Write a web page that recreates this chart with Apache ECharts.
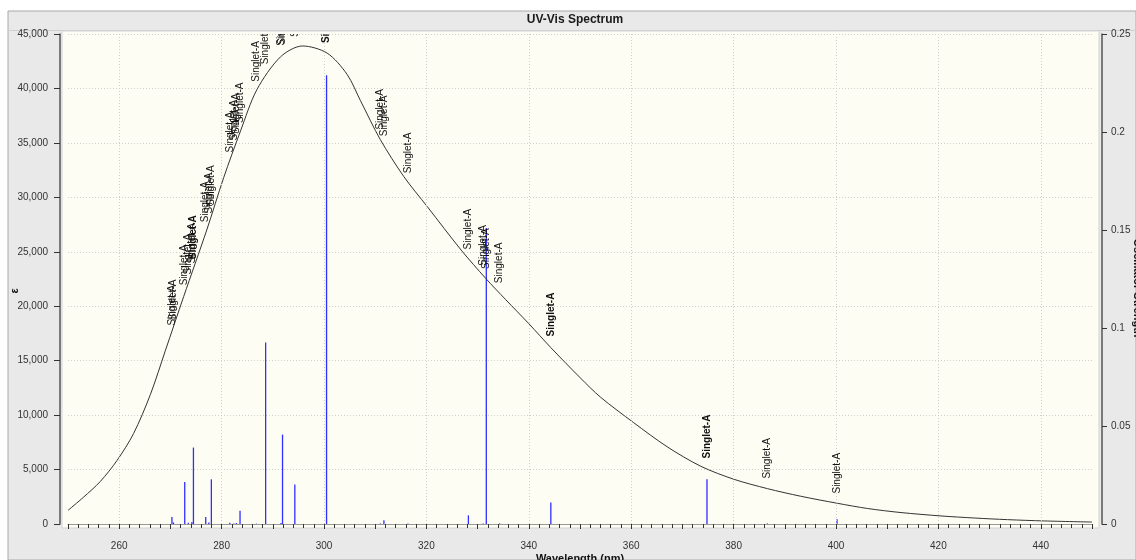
<!DOCTYPE html>
<html>
<head>
<meta charset="utf-8">
<title>UV-Vis Spectrum</title>
<script src="https://cdn.jsdelivr.net/npm/echarts@6/dist/echarts.min.js"></script>
<style>
  html, body { margin: 0; padding: 0; background: #fff; }
  #chart { width: 1136px; height: 560px; }
</style>
</head>
<body>
<div id="chart"></div>
<script>
  // broadened absorption curve (nm, epsilon)
  const curveNm = [250, 253, 256.3, 259.6, 262.8, 266.1, 269, 272.6, 277.1, 280.4, 283.7, 286.9, 291.5, 295.8,
    300.6, 304.5, 307.1, 311, 315.6, 320.2, 326.8, 331.6, 335.5, 340, 344.3, 350.1, 354, 360.5, 367, 373.6,
    380.1, 386.6, 393.1, 400.3, 406.2, 412.7, 420.5, 427, 433.5, 440.7, 450];
  const curveEps = [1250, 2450, 3900, 5850, 8300, 11900, 15900, 20900, 27000, 31800, 36100, 39900, 42900, 43900,
    43250, 41300, 38900, 35300, 31900, 29130, 25150, 22550, 20600, 18400, 16200, 13400, 11650, 9300, 7100, 5300,
    4100, 3250, 2550, 1900, 1420, 1050, 740, 550, 400, 280, 180];

  // transitions: wavelength, oscillator strength, label height on the curve, bold label
  const stickNm = [270.3, 270.6, 272.8, 273.5, 274.2, 274.5, 276.9, 277.5, 278.0, 281.6, 282.4, 282.9, 283.6,
    286.8, 288.6, 291.6, 291.9, 294.3, 300.5, 311.0, 311.7, 316.4, 328.2, 331.1, 331.7, 334.3, 344.3, 374.8,
    386.6, 400.2];
  const stickStrength = [0.0036, 0.0008, 0.0214, 0.0007, 0.0010, 0.039, 0.0036, 0.0008, 0.0228, 0.0006, 0.0003,
    0.0005, 0.0068, 0.0002, 0.0926, 0.0005, 0.0456, 0.0201, 0.229, 0.0002, 0.0019, 0.0003, 0.0044, 0.0003,
    0.151, 0.0003, 0.011, 0.0228, 0.0003, 0.0024];
  const labelEps = [17300, 17800, 21000, 22000, 23000, 23400, 26800, 27600, 28300, 33200, 34300, 34900, 35900,
    39700, 41300, 43000, 43100, 43800, 43250, 35300, 34700, 31300, 24300, 22800, 22500, 21200, 16300, 5100,
    3250, 1880];
  const labelBold = [0, 0, 0, 0, 0, 1, 0, 0, 0, 0, 0, 0, 0, 0, 0, 0, 0, 0, 1, 0, 0, 0, 0, 0, 0, 0, 1, 1, 0, 0];

  const xTicks = [260, 280, 300, 320, 340, 360, 380, 400, 420, 440];

  let chart = echarts.init(document.getElementById('chart'));

  let curveData = curveNm.map((x, i) => [x, curveEps[i]]);
  let stickData = stickNm.map((x, i) => [x, stickStrength[i]]);
  let labelData = stickNm.map((x, i) => [x, labelEps[i], labelBold[i]]);

  chart.setOption({
    animation: false,
    backgroundColor: '#ffffff',
    textStyle: { fontFamily: '"Liberation Sans", Arial, sans-serif' },
    graphic: [
      { type: 'rect', z: -10, shape: { x: 8, y: 11, width: 1128, height: 549 },
        style: { fill: '#e9e9e9', stroke: '#a8a8a8', lineWidth: 1 } },
      { type: 'line', z: -10, shape: { x1: 8, y1: 30.5, x2: 1136, y2: 30.5 },
        style: { stroke: '#cfcfcf', lineWidth: 1 } },
      { type: 'rect', z: -9, shape: { x: 62, y: 31, width: 1037, height: 497 },
        style: { fill: '#fdfdf4', stroke: '#d4d4d4', lineWidth: 1 } },
      { type: 'text', z: 10, x: 575, y: 20,
        style: { text: 'UV-Vis Spectrum', fontSize: 12, fontWeight: 'bold', fill: '#1a1a1a',
          textAlign: 'center', textVerticalAlign: 'middle', fontFamily: '"Liberation Sans", Arial, sans-serif' } }
    ],
    grid: { left: 68, right: 44, top: 34, bottom: 36, containLabel: false, outerBoundsMode: 'none' },
    xAxis: {
      type: 'value',
      min: 250,
      max: 450,
      interval: 10,
      offset: 7,
      name: 'Wavelength (nm)',
      nameLocation: 'middle',
      nameGap: 22,
      nameMoveOverlap: false,
      nameTextStyle: { fontSize: 11, fontWeight: 'bold', color: '#111' },
      axisLine: { lineStyle: { color: '#999', width: 1 } },
      axisTick: { length: 5, lineStyle: { color: '#333' } },
      minorTick: { show: true, splitNumber: 5, length: 4, lineStyle: { color: '#333' } },
      axisLabel: {
        fontSize: 10,
        color: '#333',
        margin: 10,
        formatter: v => (v % 20 === 0 && v > 250 && v < 450) ? String(v) : ''
      },
      splitLine: { show: false }
    },
    yAxis: [
      {
        type: 'value',
        min: 0,
        max: 45000,
        interval: 5000,
        offset: 8,
        name: 'ε',
        nameLocation: 'middle',
        nameGap: 40,
        nameMoveOverlap: false,
        nameTextStyle: { fontSize: 11, fontWeight: 'bold', color: '#111', padding: [0, 24, 0, 0] },
        axisLine: { show: true, lineStyle: { color: '#555', width: 1.5 } },
        axisTick: { show: true, length: 6, lineStyle: { color: '#333' } },
        axisLabel: {
          fontSize: 10,
          color: '#333',
          margin: 12,
          formatter: v => v.toLocaleString('en-US')
        },
        splitLine: { show: true, lineStyle: { color: '#cfcfcf', type: [1, 2] } }
      },
      {
        type: 'value',
        min: 0,
        max: 0.25,
        interval: 0.05,
        offset: 10,
        position: 'right',
        name: 'Oscillator Strength',
        nameLocation: 'middle',
        nameGap: 30,
        nameRotate: -90,
        nameMoveOverlap: false,
        nameTextStyle: { fontSize: 11, fontWeight: 'bold', color: '#111', padding: [0, 0, 0, 18] },
        axisLine: { show: true, lineStyle: { color: '#555', width: 1.5 } },
        axisTick: { show: true, length: 5, lineStyle: { color: '#333' } },
        axisLabel: { fontSize: 10, color: '#333', margin: 9 },
        splitLine: { show: false }
      }
    ],
    series: [
      {
        // vertical dotted grid lines
        type: 'line',
        data: [],
        z: 1,
        silent: true,
        markLine: {
          silent: true,
          symbol: 'none',
          label: { show: false },
          lineStyle: { color: '#cfcfcf', type: [1, 2], width: 1 },
          data: xTicks.map(v => ({ xAxis: v }))
        }
      },
      {
        name: 'sticks',
        type: 'custom',
        yAxisIndex: 1,
        z: 3,
        data: stickData,
        renderItem: (params, api) => {
          let p0 = api.coord([api.value(0), 0]);
          let p1 = api.coord([api.value(0), api.value(1)]);
          return {
            type: 'line',
            shape: { x1: p0[0], y1: p0[1], x2: p1[0], y2: p1[1] },
            style: { stroke: '#2f2fff', lineWidth: 1.3 }
          };
        }
      },
      {
        name: 'spectrum',
        type: 'line',
        data: curveData,
        smooth: 0.3,
        showSymbol: false,
        z: 4,
        lineStyle: { color: '#333333', width: 1 }
      },
      {
        name: 'labels',
        type: 'custom',
        clip: true,
        z: 5,
        data: labelData,
        renderItem: (params, api) => {
          let p = api.coord([api.value(0), api.value(1)]);
          return {
            type: 'text',
            x: p[0],
            y: p[1] - 10,
            rotation: Math.PI / 2,
            style: {
              text: 'Singlet-A',
              fontSize: 10,
              fontWeight: api.value(2) ? 'bold' : 'normal',
              fontFamily: '"Liberation Sans", Arial, sans-serif',
              fill: '#111',
              textAlign: 'left',
              textVerticalAlign: 'middle'
            }
          };
        }
      }
    ]
  });
</script>
</body>
</html>
